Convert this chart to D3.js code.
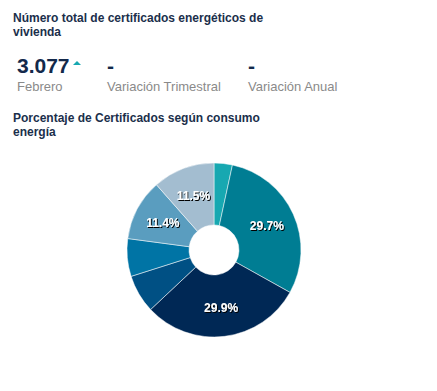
<!DOCTYPE html>
<html>
<head>
<meta charset="utf-8">
<script src="https://cdn.jsdelivr.net/npm/d3@7"></script>
<style>
  body { margin: 0; background: #fff; font-family: 'Liberation Sans', Arial, sans-serif; }
  .title { font-size: 12px; font-weight: bold; fill: #1b2f4b; }
  .kpi { font-size: 21px; font-weight: bold; fill: #13294b; }
  .kpi-label { font-size: 13px; fill: #8a8a8a; }
  .slice-label { font-size: 12px; font-weight: bold; fill: #fff; }
</style>
</head>
<body>
<div id="chart"></div>
<script>
const categories = ['A', 'B', 'C', 'D', 'E', 'F', 'G']
const shares = [3.4, 29.7, 29.9, 7.1, 7.0, 11.4, 11.5]
const colors = ['#17a8b1', '#007d93', '#002855', '#005084', '#0074a5', '#5a9dbf', '#a3bdd0']

const kpiValues = ['3.077', '-', '-']
const kpiLabels = ['Febrero', 'Variación Trimestral', 'Variación Anual']

const width = 437
const height = 391

const svg = d3
  .select('#chart')
  .append('svg')
  .attr('width', width)
  .attr('height', height)

const defs = svg.append('defs')
defs
  .append('filter')
  .attr('id', 'shadow')
  .attr('x', '-20%')
  .attr('y', '-40%')
  .attr('width', '140%')
  .attr('height', '180%')
  .append('feDropShadow')
  .attr('dx', 1)
  .attr('dy', 1)
  .attr('stdDeviation', 0.7)
  .attr('flood-color', '#000')
  .attr('flood-opacity', 1)

// titles
svg.append('text').attr('class', 'title').attr('x', 13).attr('y', 22)
  .text('Número total de certificados energéticos de')
svg.append('text').attr('class', 'title').attr('x', 13).attr('y', 36)
  .text('vivienda')

const kpiX = [17, 107, 248]
svg.selectAll('.kpi')
  .data(kpiValues)
  .enter()
  .append('text')
  .attr('class', 'kpi')
  .attr('x', (d, i) => kpiX[i])
  .attr('y', 73)
  .text(d => d)

svg.selectAll('.kpi-label')
  .data(kpiLabels)
  .enter()
  .append('text')
  .attr('class', 'kpi-label')
  .attr('x', (d, i) => kpiX[i])
  .attr('y', 91)
  .text(d => d)

// up arrow
svg.append('path')
  .attr('d', 'M73,65 L77,61 L81,65 Z')
  .attr('fill', '#17a8b1')

svg.append('text').attr('class', 'title').attr('x', 13).attr('y', 122)
  .text('Porcentaje de Certificados según consumo')
svg.append('text').attr('class', 'title').attr('x', 13).attr('y', 136)
  .text('energía')

// donut
const cx = 214
const cy = 250
const outerR = 87
const innerR = 25

const pie = d3.pie().sort(null).value(d => d)
const arcs = pie(shares)

const arc = d3.arc().innerRadius(innerR).outerRadius(outerR)
const labelArc = d3.arc().innerRadius(58).outerRadius(58)

const colorScale = d3.scaleOrdinal().domain(categories).range(colors)

const g = svg.append('g').attr('transform', `translate(${cx}, ${cy})`)

g.selectAll('.slice')
  .data(arcs)
  .enter()
  .append('path')
  .attr('class', 'slice')
  .attr('d', arc)
  .attr('fill', (d, i) => colorScale(categories[i]))
  .attr('stroke', '#fff')
  .attr('stroke-width', 0.5)

g.selectAll('.slice-label')
  .data(arcs.filter(d => d.value > 10))
  .enter()
  .append('text')
  .attr('class', 'slice-label')
  .attr('transform', d => `translate(${labelArc.centroid(d)})`)
  .attr('text-anchor', 'middle')
  .attr('dy', '0.35em')
  .attr('filter', 'url(#shadow)')
  .text(d => d.value.toFixed(1) + '%')
</script>
</body>
</html>
